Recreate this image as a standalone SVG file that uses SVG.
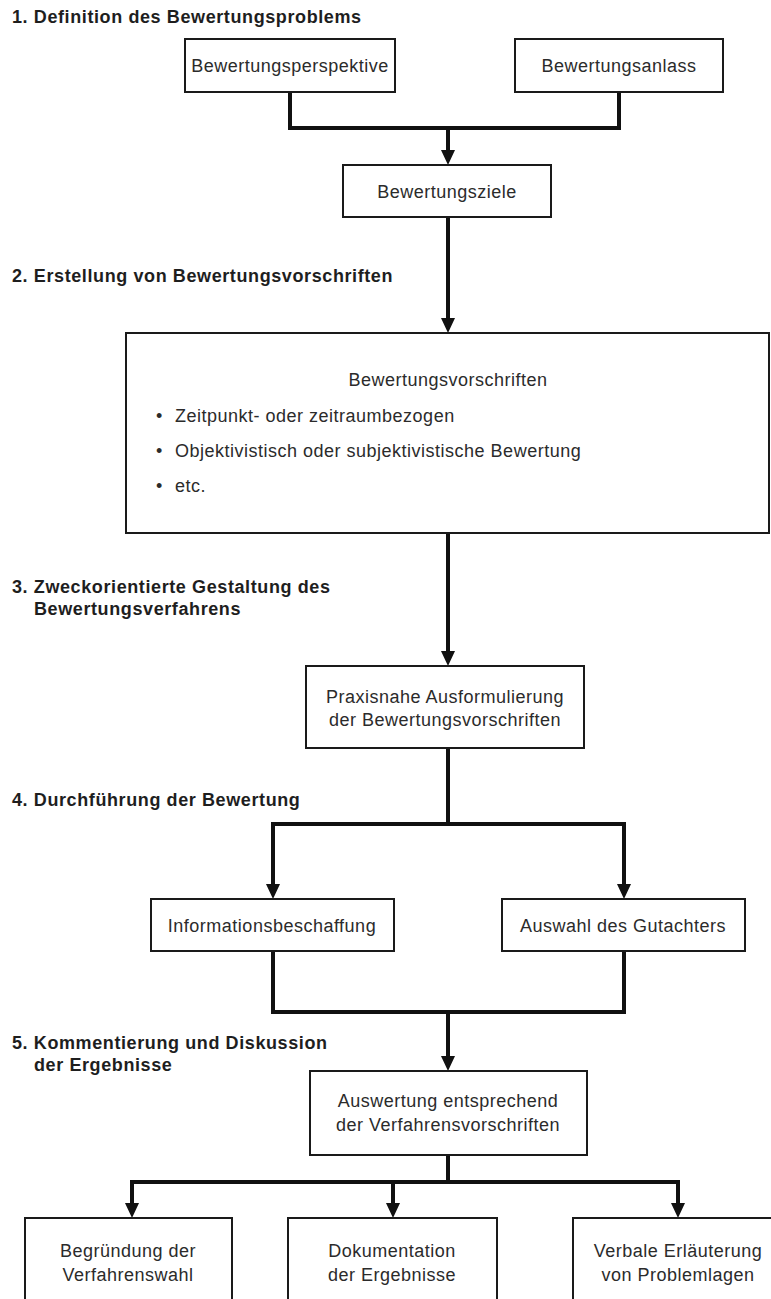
<svg xmlns="http://www.w3.org/2000/svg" width="771" height="1299" viewBox="0 0 771 1299">
  <defs>
    <marker id="head" viewBox="0 0 15 14" markerWidth="15" markerHeight="14" refX="9" refY="7" orient="auto" markerUnits="userSpaceOnUse">
      <path d="M0,0 L15,7 L0,14 Z" fill="#111"/>
    </marker>
    <style>
      .box { fill: #fff; stroke: #1a1a1a; stroke-width: 2; }
      .lbl { font-family: "Liberation Sans", Arial, sans-serif; font-size: 18px; letter-spacing: 0.5px; fill: #2b2b2b; text-anchor: middle; }
      .lst { font-family: "Liberation Sans", Arial, sans-serif; font-size: 18px; letter-spacing: 0.5px; fill: #2b2b2b; }
      .step { font-family: "Liberation Sans", Arial, sans-serif; font-size: 18px; font-weight: bold; letter-spacing: 0.6px; fill: #1e1e1e; }
      .wire { fill: none; stroke: #111; stroke-width: 4; stroke-linejoin: miter; }
      .arr { fill: none; stroke: #111; stroke-width: 4; marker-end: url(#head); }
    </style>
  </defs>
  <rect width="771" height="1299" fill="#fff"/>

  <!-- phase headings -->
  <g id="phases">
    <text class="step" x="12" y="23">1. Definition des Bewertungsproblems</text>
    <text class="step" x="12" y="282">2. Erstellung von Bewertungsvorschriften</text>
    <text class="step" x="12" y="593">3. Zweckorientierte Gestaltung des</text>
    <text class="step" x="34" y="615">Bewertungsverfahrens</text>
    <text class="step" x="12" y="806">4. Durchführung der Bewertung</text>
    <text class="step" x="12" y="1049">5. Kommentierung und Diskussion</text>
    <text class="step" x="34" y="1071">der Ergebnisse</text>
  </g>

  <!-- connectors -->
  <g id="connectors">
    <polyline class="wire" points="290,92 290,128 619,128 619,92"/>
    <line class="arr" x1="448" y1="128" x2="448" y2="159"/>
    <line class="arr" x1="448" y1="217" x2="448" y2="327"/>
    <line class="arr" x1="448" y1="533" x2="448" y2="660"/>
    <line class="wire" x1="448" y1="748" x2="448" y2="824"/>
    <line class="wire" x1="271" y1="824" x2="626" y2="824"/>
    <line class="arr" x1="273" y1="824" x2="273" y2="893"/>
    <line class="arr" x1="624" y1="824" x2="624" y2="893"/>
    <polyline class="wire" points="273,951 273,1012 624,1012 624,951"/>
    <line class="arr" x1="448" y1="1012" x2="448" y2="1065"/>
    <line class="wire" x1="448" y1="1155" x2="448" y2="1182"/>
    <line class="wire" x1="130" y1="1182" x2="680" y2="1182"/>
    <line class="arr" x1="132" y1="1182" x2="132" y2="1212"/>
    <line class="arr" x1="393" y1="1182" x2="393" y2="1212"/>
    <line class="arr" x1="678" y1="1182" x2="678" y2="1212"/>
  </g>

  <g id="perspektive">
    <rect class="box" x="185" y="39" width="210" height="53"/>
    <text class="lbl" x="290" y="72">Bewertungsperspektive</text>
  </g>
  <g id="anlass">
    <rect class="box" x="515" y="39" width="208" height="53"/>
    <text class="lbl" x="619" y="72">Bewertungsanlass</text>
  </g>
  <g id="ziele">
    <rect class="box" x="343" y="165" width="208" height="52"/>
    <text class="lbl" x="447" y="198">Bewertungsziele</text>
  </g>
  <g id="vorschriften">
    <rect class="box" x="126" y="333" width="643" height="200"/>
    <text class="lbl" x="448" y="386">Bewertungsvorschriften</text>
    <text class="lst" x="156" y="422">•</text>
    <text class="lst" x="175" y="422">Zeitpunkt- oder zeitraumbezogen</text>
    <text class="lst" x="156" y="457">•</text>
    <text class="lst" x="175" y="457">Objektivistisch oder subjektivistische Bewertung</text>
    <text class="lst" x="156" y="492">•</text>
    <text class="lst" x="175" y="492">etc.</text>
  </g>
  <g id="praxisnahe">
    <rect class="box" x="306" y="666" width="278" height="82"/>
    <text class="lbl" x="445" y="703">Praxisnahe Ausformulierung</text>
    <text class="lbl" x="445" y="726">der Bewertungsvorschriften</text>
  </g>
  <g id="information">
    <rect class="box" x="151" y="899" width="243" height="52"/>
    <text class="lbl" x="272" y="932">Informationsbeschaffung</text>
  </g>
  <g id="gutachter">
    <rect class="box" x="502" y="899" width="243" height="52"/>
    <text class="lbl" x="623" y="932">Auswahl des Gutachters</text>
  </g>
  <g id="auswertung">
    <rect class="box" x="310" y="1071" width="277" height="84"/>
    <text class="lbl" x="448" y="1107">Auswertung entsprechend</text>
    <text class="lbl" x="448" y="1131">der Verfahrensvorschriften</text>
  </g>
  <g id="begruendung">
    <rect class="box" x="25" y="1218" width="207" height="100"/>
    <text class="lbl" x="128" y="1257">Begründung der</text>
    <text class="lbl" x="128" y="1281">Verfahrenswahl</text>
  </g>
  <g id="dokumentation">
    <rect class="box" x="288" y="1218" width="209" height="100"/>
    <text class="lbl" x="392" y="1257">Dokumentation</text>
    <text class="lbl" x="392" y="1281">der Ergebnisse</text>
  </g>
  <g id="erlaeuterung">
    <rect class="box" x="573" y="1218" width="220" height="100"/>
    <text class="lbl" x="678" y="1257">Verbale Erläuterung</text>
    <text class="lbl" x="678" y="1281">von Problemlagen</text>
  </g>
</svg>
